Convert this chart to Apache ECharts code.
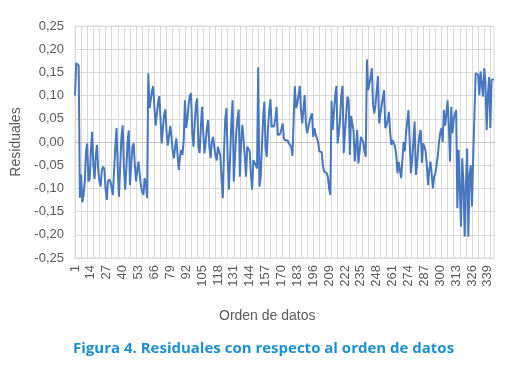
<!DOCTYPE html>
<html>
<head>
<meta charset="utf-8">
<script src="https://cdn.jsdelivr.net/npm/echarts@6/dist/echarts.min.js"></script>
<style>
html,body{margin:0;padding:0;background:#fff;}
#chart{width:506px;height:370px;}
</style>
</head>
<body>
<div id="chart"></div>
<script>
// Residuals, order 1..344
var residualsA = [
0.10,0.170,0.168,0.165,-0.12,-0.07,-0.13,-0.115,-0.085,-0.02,
-0.003,-0.085,-0.08,-0.02,0.022,-0.05,-0.08,-0.03,-0.006,-0.06,
-0.085,-0.096,-0.06,-0.053,-0.058,-0.10,-0.125,-0.085,-0.08,-0.085,
-0.10,-0.114,-0.06,-0.01,0.03,-0.06,-0.118,-0.05,0.01,0.036,
-0.05,-0.103,-0.06,0.0,0.025,-0.093,-0.05,-0.01,-0.003,-0.05,
-0.085,-0.06,-0.042,-0.07,-0.095,-0.108,-0.114,-0.078,-0.09,-0.121,
0.148,0.073,0.09,0.11,0.12,0.075,0.035,0.06,0.085,0.099,
0.05,-0.003,0.03,0.06,0.07,0.02,-0.008,0.015,0.035,0.01,
-0.02,-0.035,-0.01,0.008,-0.03,-0.06
];
var residualsB = [
-0.03,-0.017,-0.028,0.005,0.09,0.03,0.05,0.08,0.1,0.105,
0.02,-0.01,0.04,0.08,0.094,-0.01,-0.024,0.03,0.076,0.02,
-0.024,0.0,0.03,0.047,-0.01,-0.035,0.0,0.011,0.013,-0.03,
-0.04,-0.01,-0.006,-0.03,-0.08,-0.121,-0.02,0.05,0.073,-0.04,
-0.103,-0.03,0.04,0.09,-0.085,-0.03,0.02,0.05,0.07,-0.075,
0.0,0.037,0.035,-0.03,-0.075,-0.01,-0.012,-0.02,-0.07,-0.103,
-0.039,-0.035,-0.05,-0.057,0.161,-0.096,-0.075,-0.01,0.05,0.087,
-0.01,-0.032,0.03,0.069,0.092,0.033,0.035,0.034,0.05,0.076,
0.015,0.019,0.017,0.015,0.04,0.008
];
var residualsC = [
0.003,0.0,0.004,-0.003,0.0,-0.01,-0.03,0.05,0.12,0.073,
0.083,0.10,0.121,0.07,0.04,0.07,0.101,0.04,0.019,0.017,
0.044,0.055,0.062,0.011,0.03,0.016,0.014,0.0,-0.02,-0.024,
-0.022,-0.053,-0.064,-0.06,-0.067,-0.075,-0.1,-0.114,0.089,0.026,
0.065,0.1,0.121,-0.003,0.02,0.05,0.1,0.121,-0.024,0.02,
0.06,0.098,0.09,-0.028,0.056,0.04,0.025,-0.042,-0.01,0.026,
-0.046,-0.02,0.011,0.008,0.0,-0.02,-0.032,0.178,0.112,0.115,
0.14,0.159,0.08,0.062,0.08,0.11,0.142,0.04,0.06,0.078,
0.095,0.112,0.03,0.035,0.048,0.065
];
var residualsD = [
0.02,-0.006,0.004,0.004,-0.01,-0.03,-0.067,-0.043,-0.06,-0.078,
-0.04,0.0,-0.02,0.02,0.044,0.069,0.0,-0.067,-0.04,0.0,
0.044,-0.071,-0.05,-0.01,0.015,0.026,-0.045,-0.003,-0.01,-0.02,
-0.05,-0.093,-0.06,-0.042,-0.07,-0.1,-0.075,-0.068,-0.064,-0.03,
0.0,0.02,0.03,0.0,0.069,0.035,0.06,0.09,0.035,-0.042,
0.076,0.019,0.05,0.06,0.069,-0.143,-0.017,-0.015,-0.182,-0.035,
-0.09,-0.204,-0.09,-0.014,-0.204,-0.07,-0.05,-0.139,-0.03,0.06,
0.148,0.145,0.145,0.101,0.152,0.155,0.098,0.159,0.13,0.026,
0.1,0.14,0.03,0.134,0.13,0.135
];
var residuals = residualsA.concat(residualsB, residualsC, residualsD);
var categories = [];
for (var i = 1; i <= residuals.length; i++) categories.push(String(i));

var yMin = -0.25, yMax = 0.25, yStep = 0.05;
var xLabelEvery = 13;
var xGridEvery = 5;

var chart = echarts.init(document.getElementById('chart'), null, {renderer: 'canvas'});
var grayText = '#595959';
var gridGray = '#d9d9d9';
var FONT = 'Liberation Sans, Arial, sans-serif';
chart.setOption({
  animation: false,
  backgroundColor: '#ffffff',
  grid: {left: 75, right: 12, top: 26, bottom: 112, show: true, borderColor: gridGray, borderWidth: 1, containLabel: false},
  xAxis: {
    type: 'category',
    data: categories,
    boundaryGap: false,
    axisLine: {show: true, lineStyle: {color: '#c4c4c4', width: 1}},
    axisTick: {show: false},
    axisLabel: {interval: xLabelEvery - 1, rotate: 90, fontSize: 13, color: grayText, margin: 7, fontFamily: FONT},
    splitLine: {show: true, interval: xGridEvery - 1, lineStyle: {color: gridGray, width: 1}}
  },
  yAxis: {
    type: 'value',
    min: yMin, max: yMax, interval: yStep,
    name: 'Residuales',
    nameLocation: 'middle',
    nameGap: 47,
    nameTextStyle: {fontSize: 14, color: grayText, fontFamily: FONT},
    axisLine: {show: true, lineStyle: {color: gridGray}},
    axisTick: {show: false},
    axisLabel: {fontSize: 13, color: grayText, margin: 11, fontFamily: FONT,
      formatter: function (v) { return v.toFixed(2).replace('.', ','); }},
    splitLine: {show: true, lineStyle: {color: gridGray, width: 1}}
  },
  graphic: [
    {type: 'text', left: 219, top: 309, style: {text: 'Orden de datos', font: '14px ' + FONT, fill: grayText}},
    {type: 'text', left: 73, top: 341, style: {text: 'Figura 4. Residuales con respecto al orden de datos', font: 'bold 15px "Open Sans", sans-serif', fill: '#1b8fd2'}}
  ],
  series: [{
    type: 'line',
    data: residuals,
    symbol: 'none',
    lineStyle: {color: '#4677c0', width: 2},
    itemStyle: {color: '#4677c0'}
  }]
});
</script>
</body>
</html>
